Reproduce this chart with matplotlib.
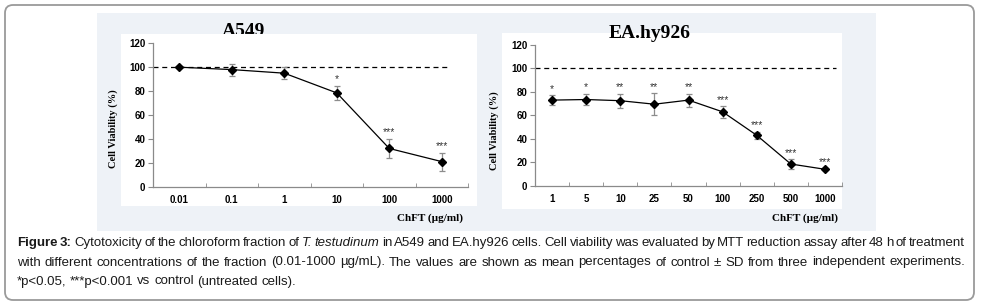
import matplotlib
matplotlib.use('Agg')
import matplotlib.pyplot as plt
from matplotlib.patches import Rectangle, FancyBboxPatch

W, H = 982, 307

# ---- data ----
a549_doses = ['0.01', '0.1', '1', '10', '100', '1000']
a549_mean = [100, 98, 95, 78.5, 32, 21]
a549_sd = [1, 5, 5, 6, 8, 7.5]
a549_sig = ['', '', '', '*', '***', '***']

ea_doses = ['1', '5', '10', '25', '50', '100', '250', '500', '1000']
ea_mean = [73, 73.5, 72.5, 69.5, 73, 63, 43, 18.5, 14]
ea_sd = [4, 5, 6, 9.5, 5.5, 5, 3, 4, 1]
ea_sig = ['*', '*', '**', '**', '**', '***', '***', '***', '***']

yticks = [0, 20, 40, 60, 80, 100, 120]

caption = [
    [('Figure 3:', 'bold'), ('Cytotoxicity of the chloroform fraction of', 'normal'),
     ('T. testudinum', 'italic'),
     ('in A549 and EA.hy926 cells. Cell viability was evaluated by MTT reduction assay after 48 h of treatment', 'normal')],
    [('with different concentrations of the fraction (0.01-1000 \u00b5g/mL). The values are shown as mean '
      'percentages of control \u00b1 SD from three independent experiments.', 'normal')],
    [('*p<0.05, ***p<0.001 vs control (untreated cells).', 'normal')],
]

SANS = ['Liberation Sans', 'DejaVu Sans']
SERIF = ['Liberation Serif', 'DejaVu Serif']
PANEL = '#eef2f7'


def fx(x):
    return x / W


def fy(y):
    return 1 - y / H


def rect(fig, x0, y0, x1, y1, **kw):
    fig.patches.append(Rectangle((fx(x0), fy(y1)), fx(x1) - fx(x0), fy(y0) - fy(y1),
                                 transform=fig.transFigure, **kw))


fig = plt.figure(figsize=(W / 100, H / 100), dpi=100)
fig.patch.set_facecolor('white')

# rounded outer frame (pixel coords)
frame = FancyBboxPatch((5, H - 300), 969, 295, boxstyle='round,pad=0,rounding_size=8',
                       transform=None, facecolor='white', edgecolor='#9a9a9a', lw=1.3, zorder=0)
fig.patches.append(frame)

# panel backgrounds and white plot areas
rect(fig, 97, 13, 876, 231, facecolor=PANEL, edgecolor='none', zorder=1)
rect(fig, 121, 34, 477, 206, facecolor='white', edgecolor='none', zorder=3)
rect(fig, 502, 33, 842, 209, facecolor='white', edgecolor='none', zorder=3)

# titles (A549 sits partly behind the white plot area)
fig.text(fx(243.5), fy(36), 'A549', family=SERIF, weight='bold', fontsize=14,
         ha='center', va='baseline', zorder=2)
fig.text(fx(650), fy(37.5), 'EA.hy926', family=SERIF, weight='bold', fontsize=14,
         ha='center', va='baseline', zorder=4)


def panel(rect_px, doses, mean, sd, sig, dash_end):
    x0, y0, x1, y1 = rect_px
    ax = fig.add_axes([fx(x0), fy(y1), fx(x1) - fx(x0), fy(y0) - fy(y1)])
    ax.set_facecolor('none')
    ax.set_zorder(5)
    xs = list(range(len(doses)))
    ax.axhline(100, xmin=0, xmax=dash_end, color='black', lw=0.9, ls=(0, (4, 3)))
    ax.errorbar(xs, mean, yerr=sd, fmt='none', ecolor='#8c8c8c', elinewidth=0.9,
                capsize=2, capthick=0.9, zorder=3)
    ax.plot(xs, mean, color='black', lw=0.9, marker='D', markersize=4.5, zorder=4)
    for x, m, s, t in zip(xs, mean, sd, sig):
        if t:
            ax.annotate(t, (x, m + s), xytext=(0, 1), textcoords='offset points',
                        ha='center', va='bottom', fontsize=7.5, color='#333333', family=SANS)
    ax.set_xlim(-0.5, len(doses) - 0.5)
    ax.set_ylim(0, 120)
    ax.set_yticks(yticks)
    ax.set_xticks(xs)
    ax.set_xticklabels(doses)
    ax.set_xticks([i - 0.5 for i in range(len(doses) + 1)], minor=True)
    for side in ['top', 'right']:
        ax.spines[side].set_visible(False)
    for side in ['left', 'bottom']:
        ax.spines[side].set_color('#8a8a8a')
        ax.spines[side].set_linewidth(0.9)
    ax.tick_params(axis='x', which='major', length=0, pad=6)
    ax.tick_params(axis='x', which='minor', length=3, direction='in', color='#8a8a8a')
    ax.tick_params(axis='y', length=3.5, direction='out', color='#8a8a8a', pad=2)
    for lab in ax.get_xticklabels() + ax.get_yticklabels():
        lab.set_fontfamily(SANS)
        lab.set_fontweight('bold')
        lab.set_fontsize(7)
    return ax


panel((153, 43.3, 468, 186.7), a549_doses, a549_mean, a549_sd, a549_sig, 0.943)
panel((535, 45, 842, 185.7), ea_doses, ea_mean, ea_sd, ea_sig, 0.98)

for x, y in [(113, 129), (494, 131)]:
    fig.text(fx(x), fy(y), 'Cell Viability (%)', family=SERIF, weight='bold', fontsize=7.5,
             rotation=90, ha='center', va='center', zorder=6)
for x in [463, 838]:
    fig.text(fx(x), fy(218), 'ChFT (\u00b5g/ml)', family=SERIF, weight='bold', fontsize=8,
             ha='right', va='center', zorder=6)

# ---- caption, justified like the journal layout ----
renderer = fig.canvas.get_renderer()


def width(s, style, size):
    t = fig.text(0, 0, s, family=SANS, fontsize=size,
                 fontweight='bold' if style == 'bold' else 'normal',
                 fontstyle='italic' if style == 'italic' else 'normal')
    w = t.get_window_extent(renderer).width
    t.remove()
    return w


def words_of(line):
    out = []
    for s, style in line:
        out += [(w, style) for w in s.split(' ') if w]
    return out


# size the caption so that the first line just fits the frame
base = 10
first = words_of(caption[0])
sp = width('a a', 'normal', base) - width('aa', 'normal', base)
nat = sum(width(w, st, base) for w, st in first) + (len(first) - 1) * sp * 0.6
cap_size = base * 948 / nat
space = width('a a', 'normal', cap_size) - width('aa', 'normal', cap_size)

for i, (line, y) in enumerate(zip(caption, [243, 262.5, 281.5])):
    ws = words_of(line)
    widths = [width(w, st, cap_size) for w, st in ws]
    gap = space if i == len(caption) - 1 else (965 - 17 - sum(widths)) / (len(ws) - 1)
    x = 17
    for (w, st), wd in zip(ws, widths):
        fig.text(fx(x), fy(y), w, family=SANS, fontsize=cap_size, color='#1a1a1a',
                 fontweight='bold' if st == 'bold' else 'normal',
                 fontstyle='italic' if st == 'italic' else 'normal',
                 ha='left', va='center', zorder=6)
        x += wd + gap

fig.savefig('out.png', dpi=100)
